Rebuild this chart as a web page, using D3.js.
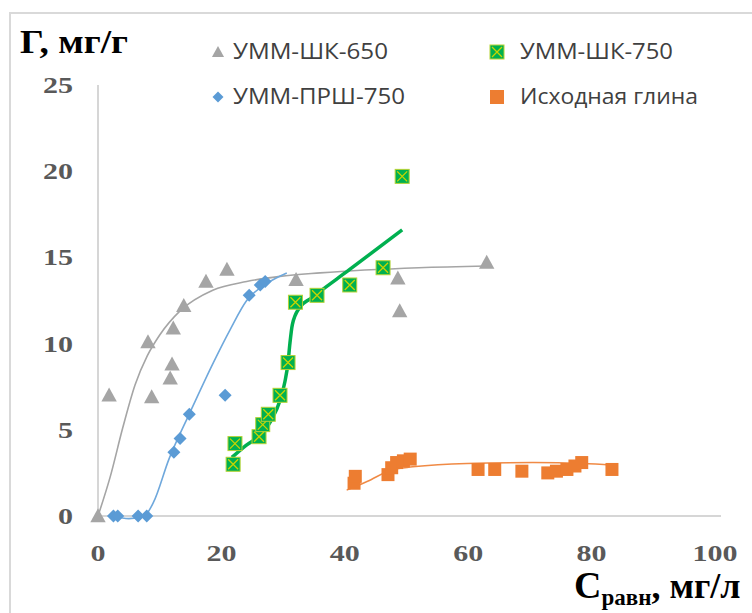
<!DOCTYPE html>
<html>
<head>
<meta charset="utf-8">
<script src="https://cdn.jsdelivr.net/npm/d3@7"></script>
<style>
  body { margin: 0; background: #fff; }
</style>
</head>
<body>
<div id="chart"></div>
<script>
'use strict';

// Axis ticks
const xTicks = [0, 20, 40, 60, 80, 100];
const yTicks = [0, 5, 10, 15, 20, 25];

// УММ-ШК-650 (gray triangles) and its trendline
const shk650 = [[0,0],[1.8,7.0],[8.1,10.1],[8.7,6.9],[11.7,8.0],[12,8.8],[12.2,10.9],[13.9,12.2],
  [17.5,13.6],[20.9,14.3],[32.1,13.7],[48.6,13.8],[48.9,11.9],[63,14.7]];
const shk650Fit = [[0,0],[2,2.3],[4,5.1],[6,7.6],[8,9.3],[10,10.5],[13.3,11.9],[18.6,13.1],
  [24.1,13.6],[29.5,13.9],[36,14.1],[52,14.4],[63,14.5]];

// УММ-ПРШ-750 (blue diamonds)
const prsh750 = [[2.5,0],[3.2,0],[6.5,0],[7.9,0],[12.3,3.7],[13.3,4.5],[14.8,5.9],[20.6,7.0],
  [24.5,12.8],[26.3,13.4],[27.1,13.6]];
const prsh750Fit = [[2.5,0],[5,-0.15],[7.5,0],[9,0.8],[11.5,3.3],[14.9,6.0],[18.7,8.9],[21.4,10.8],
  [24.1,12.5],[27.4,13.5],[30.6,14.1]];

// УММ-ШК-750 (green squares with cross)
const shk750 = [[21.9,3.0],[22.2,4.2],[26.1,4.6],[26.7,5.3],[27.6,5.9],[29.5,7.0],[30.8,8.9],
  [32,12.4],[35.5,12.8],[40.8,13.4],[46.2,14.4],[49.3,19.7]];
const shk750Fit = [[21.7,3.4],[24,4.1],[26.3,4.7],[28,5.5],[29.5,6.7],[30.3,7.8],[30.8,8.9],
  [31.1,10],[31.5,11.1],[32.7,12.1],[34.4,12.6],[35.5,12.9],[40.8,14.3],[49.3,16.6]];

// Исходная глина (orange squares)
const clay = [[41.5,1.9],[41.7,2.3],[47,2.4],[47.6,2.8],[48.4,3.1],[49.5,3.2],[50.6,3.3],
  [61.6,2.7],[64.3,2.7],[68.7,2.6],[72.9,2.5],[74.3,2.6],[76,2.7],[77.3,2.9],[78.4,3.1],[83.3,2.7]];
const clayFit = [[40.3,1.5],[43.6,2.0],[47.8,2.7],[51,2.85],[59.8,3.05],[70.5,3.1],[78.6,3.05],[83.5,2.95]];

const legendNames = ["УММ-ШК-650", "УММ-ШК-750", "УММ-ПРШ-750", "Исходная глина"];

const width = 752;
const height = 613;

const svg = d3.select("#chart").append("svg")
    .attr("width", width)
    .attr("height", height);

// light frame around the chart area
svg.append("rect")
    .attr("x", 10).attr("y", 13)
    .attr("width", 800).attr("height", 700)
    .attr("fill", "none")
    .attr("stroke", "#d9d9d9")
    .attr("stroke-width", 2);

const x = d3.scaleLinear().domain([0, 100]).range([98, 715]);
const y = d3.scaleLinear().domain([0, 25]).range([516, 85]);

// axis lines
svg.append("line")
    .attr("x1", x(0)).attr("x2", x(0))
    .attr("y1", y(25)).attr("y2", y(0))
    .attr("stroke", "#c8c8c8").attr("stroke-width", 1.5);
svg.append("line")
    .attr("x1", x(0)).attr("x2", x(100) + 6)
    .attr("y1", y(0)).attr("y2", y(0))
    .attr("stroke", "#c8c8c8").attr("stroke-width", 1.5);

const tickFont = "'Liberation Serif', 'Times New Roman', serif";

svg.selectAll(".ytick")
  .data(yTicks)
  .join("text")
    .attr("class", "ytick")
    .attr("x", 73)
    .attr("y", d => y(d) + 8)
    .attr("text-anchor", "end")
    .attr("font-family", tickFont)
    .attr("font-weight", "bold")
    .attr("font-size", 24)
    .attr("fill", "#595959")
    .attr("textLength", d => String(d).length * 15)
    .attr("lengthAdjust", "spacingAndGlyphs")
    .text(d => d);

svg.selectAll(".xtick")
  .data(xTicks)
  .join("text")
    .attr("class", "xtick")
    .attr("x", d => x(d) - String(d).length * 7.5)
    .attr("y", 561)
    .attr("font-family", tickFont)
    .attr("font-weight", "bold")
    .attr("font-size", 24)
    .attr("fill", "#595959")
    .attr("textLength", d => String(d).length * 15)
    .attr("lengthAdjust", "spacingAndGlyphs")
    .text(d => d);

// axis titles
svg.append("text")
    .attr("x", 20).attr("y", 53)
    .attr("font-family", tickFont)
    .attr("font-weight", "bold")
    .attr("font-size", 34)
    .attr("fill", "#000")
    .attr("textLength", 108)
    .attr("lengthAdjust", "spacingAndGlyphs")
    .text("Г, мг/г");

const xt = svg.append("text")
    .attr("x", 574).attr("y", 598)
    .attr("font-family", tickFont)
    .attr("font-weight", "bold")
    .attr("fill", "#000");
xt.append("tspan").attr("font-size", 38).text("C");
xt.append("tspan").attr("font-size", 23).attr("dy", 7).text("равн");
xt.append("tspan").attr("font-size", 36).attr("dy", -7).text(", мг/л");

const line = d3.line()
    .x(d => x(d[0]))
    .y(d => y(d[1]))
    .curve(d3.curveMonotoneX);

function fitLine(data, color, w) {
  svg.append("path")
      .datum(data)
      .attr("d", line)
      .attr("fill", "none")
      .attr("stroke", color)
      .attr("stroke-width", w);
}

const triangle = s => `M0,${-s * 0.55}L${s * 0.55},${s * 0.45}L${-s * 0.55},${s * 0.45}Z`;
const diamond = s => `M0,${-s / 2}L${s / 2},0L0,${s / 2}L${-s / 2},0Z`;

function drawTriangles(g, data, s) {
  g.selectAll(null).data(data).join("path")
      .attr("transform", d => `translate(${x(d[0])},${y(d[1])})`)
      .attr("d", triangle(s))
      .attr("fill", "#a5a5a5");
}
function drawDiamonds(g, data, s) {
  g.selectAll(null).data(data).join("path")
      .attr("transform", d => `translate(${x(d[0])},${y(d[1])})`)
      .attr("d", diamond(s))
      .attr("fill", "#5b9bd5");
}
function drawCrossSquares(g, data, s) {
  const m = g.selectAll(null).data(data).join("g")
      .attr("transform", d => `translate(${x(d[0])},${y(d[1])})`);
  m.append("rect")
      .attr("x", -s / 2).attr("y", -s / 2)
      .attr("width", s).attr("height", s)
      .attr("fill", "#00b050")
      .attr("stroke", "#b5d334").attr("stroke-width", 1);
  m.append("path")
      .attr("d", `M${-s / 2 + 2},${-s / 2 + 2}L${s / 2 - 2},${s / 2 - 2}M${s / 2 - 2},${-s / 2 + 2}L${-s / 2 + 2},${s / 2 - 2}`)
      .attr("stroke", "#c9d400").attr("stroke-width", 1.3);
}
function drawSquares(g, data, s) {
  g.selectAll(null).data(data).join("rect")
      .attr("x", d => x(d[0]) - s / 2)
      .attr("y", d => y(d[1]) - s / 2)
      .attr("width", s).attr("height", s)
      .attr("fill", "#ed7d31");
}

// series: trendline, then markers
fitLine(shk650Fit, "#a5a5a5", 1.6);
drawTriangles(svg.append("g"), shk650, 14);

fitLine(prsh750Fit, "#6fa8dc", 1.6);
drawDiamonds(svg.append("g"), prsh750, 13);

fitLine(shk750Fit, "#00b050", 3.5);
drawCrossSquares(svg.append("g"), shk750, 14);

fitLine(clayFit, "#f08a45", 1.5);
drawSquares(svg.append("g"), clay, 13);

// legend
const legend = svg.append("g");
const legendPos = [
  {mx: 218, ty: 52, tx: 233, tl: 155},
  {mx: 497, ty: 52, tx: 520, tl: 153},
  {mx: 218, ty: 97, tx: 233, tl: 172},
  {mx: 497, ty: 97, tx: 520, tl: 178}
];
legendNames.forEach((name, i) => {
  const p = legendPos[i];
  const lg = legend.append("g").attr("transform", `translate(${p.mx},${p.ty})`);
  if (i === 0) lg.append("path").attr("d", triangle(11)).attr("fill", "#a5a5a5");
  if (i === 2) lg.append("path").attr("d", diamond(11)).attr("fill", "#5b9bd5");
  if (i === 1) {
    lg.append("rect").attr("x", -7).attr("y", -7).attr("width", 14).attr("height", 14)
      .attr("fill", "#00b050").attr("stroke", "#b5d334");
    lg.append("path").attr("d", "M-5,-5L5,5M5,-5L-5,5").attr("stroke", "#c9d400").attr("stroke-width", 1.3);
  }
  if (i === 3) lg.append("rect").attr("x", -7).attr("y", -7).attr("width", 14).attr("height", 14)
      .attr("fill", "#ed7d31");
  legend.append("text")
      .attr("x", p.tx).attr("y", p.ty + 7)
      .attr("font-family", "'Open Sans', 'Liberation Sans', sans-serif")
      .attr("font-size", 21)
      .attr("fill", "#404040")
      .attr("textLength", p.tl)
      .attr("lengthAdjust", "spacingAndGlyphs")
      .text(name);
});
</script>
</body>
</html>
